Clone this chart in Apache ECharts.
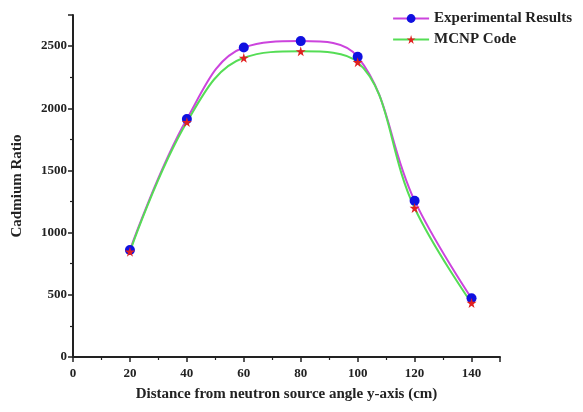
<!DOCTYPE html>
<html>
<head>
<meta charset="utf-8">
<script src="https://cdn.jsdelivr.net/npm/echarts@6/dist/echarts.min.js"></script>
<style>
  html, body { margin: 0; padding: 0; background: #fff; }
  #main { width: 583px; height: 412px; }
</style>
</head>
<body>
<div id="main"></div>
<script>
// distance from source (cm)
var distances = [20, 40, 60, 80, 100, 120, 140];
var experimental = [860, 1913, 2489, 2540, 2414, 1257, 472];
var mcnp = [847, 1889, 2406, 2458, 2371, 1198, 434];

function pairs(xs, ys) {
  var out = [];
  for (var i = 0; i < xs.length; i++) {
    out.push([xs[i], ys[i]]);
  }
  return out;
}

var font = "'Liberation Serif', 'Times New Roman', serif";
var chartDom = document.getElementById("main");
var myChart = echarts.init(chartDom);
var option;

option = {
  animation: false,
  grid: { left: 73, right: 83, top: 15, bottom: 55 },
  legend: {
    top: 6,
    right: 6,
    orient: "vertical",
    itemWidth: 36,
    itemHeight: 11,
    itemGap: 6,
    textStyle: { fontFamily: font, fontWeight: "bold", fontSize: 15, color: "#222" },
    data: ["Experimental Results", "MCNP Code"]
  },
  xAxis: {
    type: "value",
    min: 0,
    max: 150,
    interval: 20,
    name: "Distance from neutron source angle y-axis (cm)",
    nameLocation: "middle",
    nameGap: 30,
    nameTextStyle: { fontFamily: font, fontWeight: "bold", fontSize: 15, color: "#222" },
    axisLine: { lineStyle: { color: "#222", width: 2 } },
    axisTick: { length: 5, lineStyle: { width: 1.5 } },
    minorTick: { show: true, splitNumber: 2, length: 3, lineStyle: { color: "#222", width: 1.2 } },
    splitLine: { show: false },
    axisLabel: {
      fontFamily: font, fontWeight: "bold", fontSize: 13, color: "#222", margin: 10,
      showMaxLabel: false,
      formatter: function (v) { return v > 140 ? "" : String(v); }
    }
  },
  yAxis: {
    type: "value",
    min: 0,
    max: 2750,
    interval: 500,
    name: "Cadmium Ratio",
    nameLocation: "middle",
    nameGap: 48,
    nameTextStyle: { fontFamily: font, fontWeight: "bold", fontSize: 15, color: "#222" },
    axisLine: { show: true, lineStyle: { color: "#222", width: 2 } },
    axisTick: { show: true, length: 5, lineStyle: { width: 1.5 } },
    minorTick: { show: true, splitNumber: 2, length: 3, lineStyle: { color: "#222", width: 1.2 } },
    splitLine: { show: false },
    axisLabel: {
      fontFamily: font, fontWeight: "bold", fontSize: 13, color: "#222", margin: 6,
      showMaxLabel: false,
      formatter: function (v) { return v > 2500 ? "" : String(v); }
    }
  },
  series: [
    {
      name: "Experimental Results",
      type: "line",
      smooth: 0.4,
      data: pairs(distances, experimental),
      symbol: "circle",
      symbolSize: 10,
      itemStyle: { color: "#1010e0" },
      lineStyle: { color: "#cc44dd", width: 2 }
    },
    {
      name: "MCNP Code",
      type: "line",
      smooth: 0.4,
      data: pairs(distances, mcnp),
      symbol: "path://M50,0 L61,35 L98,35 L68,57 L79,91 L50,70 L21,91 L32,57 L2,35 L39,35 Z",
      symbolSize: 10,
      itemStyle: { color: "#e02020" },
      lineStyle: { color: "#55dd55", width: 2 }
    }
  ]
};
option && myChart.setOption(option);
</script>
</body>
</html>
